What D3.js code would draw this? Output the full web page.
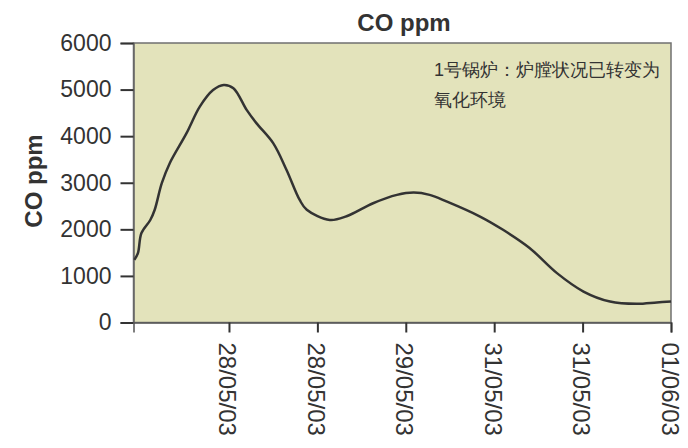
<!DOCTYPE html>
<html>
<head>
<meta charset="utf-8">
<script src="https://cdn.jsdelivr.net/npm/d3@7"></script>
<style>
  body { margin: 0; background: #fff; }
  svg text { font-family: "Liberation Sans", Arial, sans-serif; fill: #333; }
</style>
</head>
<body>
<svg id="chart"></svg>
<script>
// x positions are in tick units (0 = first date tick), values in ppm
const tickLabels = ['28/05/03', '28/05/03', '29/05/03', '31/05/03', '31/05/03', '01/06/03'];
const xPos = [-1.07, -1.03, -0.99, -0.89, -0.84, -0.76, -0.67, -0.48, -0.33, -0.18, -0.06, 0.05, 0.2, 0.31, 0.5, 0.65, 0.8, 0.88, 1.14, 1.33, 1.63, 1.9, 2.09, 2.27, 2.46, 2.84, 3.1, 3.4, 3.71, 4.01, 4.31, 4.61, 4.84, 5.0];
const coValues = [1345, 1490, 1920, 2200, 2420, 2990, 3420, 4065, 4635, 4990, 5100, 5030, 4565, 4280, 3850, 3280, 2630, 2420, 2200, 2280, 2560, 2740, 2790, 2740, 2600, 2275, 1990, 1600, 1060, 665, 450, 400, 430, 450];
const yTicks = [0, 1000, 2000, 3000, 4000, 5000, 6000];
const note = ['1号锅炉：炉膛状况已转变为', '氧化环境'];

(function(){
  let width = 688, height = 448;
  let margin = {left: 133.5, right: 17, top: 43, bottom: 125.5};

  let svg = d3.select('svg#chart')
      .attr('width', width)
      .attr('height', height);

  let x = d3.scaleLinear().domain([-1.08, 5]).range([margin.left, width - margin.right]);
  let y = d3.scaleLinear().domain([0, 6000]).range([height - margin.bottom, margin.top]);

  // plot background
  svg.append('rect')
      .attr('x', x(-1.08))
      .attr('y', y(6000))
      .attr('width', x(5) - x(-1.08))
      .attr('height', y(0) - y(6000))
      .attr('fill', '#e3e3bb')
      .attr('stroke', '#707070')
      .attr('stroke-width', 1.5);

  // y axis
  let yAxis = svg.append('g')
      .attr('transform', `translate(${x(-1.08)},0)`)
      .call(d3.axisLeft(y).tickValues(yTicks).tickFormat(d3.format('d')).tickSize(13).tickPadding(9));
  yAxis.select('.domain').attr('stroke', '#666').attr('stroke-width', 1.5);
  yAxis.selectAll('.tick line').attr('stroke', '#333').attr('stroke-width', 2);
  yAxis.selectAll('.tick text').attr('font-size', 23).attr('fill', '#333');

  // x axis
  let xAxis = svg.append('g')
      .attr('transform', `translate(0,${y(0)})`)
      .call(d3.axisBottom(x).tickValues(d3.range(tickLabels.length)).tickFormat(i => tickLabels[i]).tickSize(10));
  xAxis.select('.domain').attr('stroke', '#555').attr('stroke-width', 1.5);
  xAxis.selectAll('.tick line').attr('stroke', '#333').attr('stroke-width', 2);
  xAxis.selectAll('.tick text')
      .attr('font-size', 24)
      .attr('fill', '#333')
      .attr('transform', 'rotate(90)')
      .attr('x', 20)
      .attr('y', 10)
      .attr('dy', 0)
      .attr('text-anchor', 'start');

  // curve
  let points = xPos.map((p, i) => [p, coValues[i]]);
  svg.append('path')
      .datum(points)
      .attr('fill', 'none')
      .attr('stroke', '#333')
      .attr('stroke-width', 2.5)
      .attr('d', d3.line().x(d => x(d[0])).y(d => y(d[1])).curve(d3.curveCatmullRom.alpha(0.5)));

  // titles
  svg.append('text')
      .attr('x', 404)
      .attr('y', 30.5)
      .attr('text-anchor', 'middle')
      .attr('font-size', 24)
      .attr('font-weight', 'bold')
      .text('CO ppm');

  svg.append('text')
      .attr('transform', `translate(41.5,181) rotate(-90)`)
      .attr('text-anchor', 'middle')
      .attr('font-size', 24)
      .attr('font-weight', 'bold')
      .text('CO ppm');

  svg.append('g').selectAll('text')
    .data(note)
    .enter().append('text')
      .attr('x', 434)
      .attr('y', (d, i) => 76 + i * 30)
      .attr('font-family', '"Noto Serif CJK SC", "Noto Sans CJK SC", serif')
      .attr('font-size', 18)
      .text(d => d);
})();
</script>
</body>
</html>
